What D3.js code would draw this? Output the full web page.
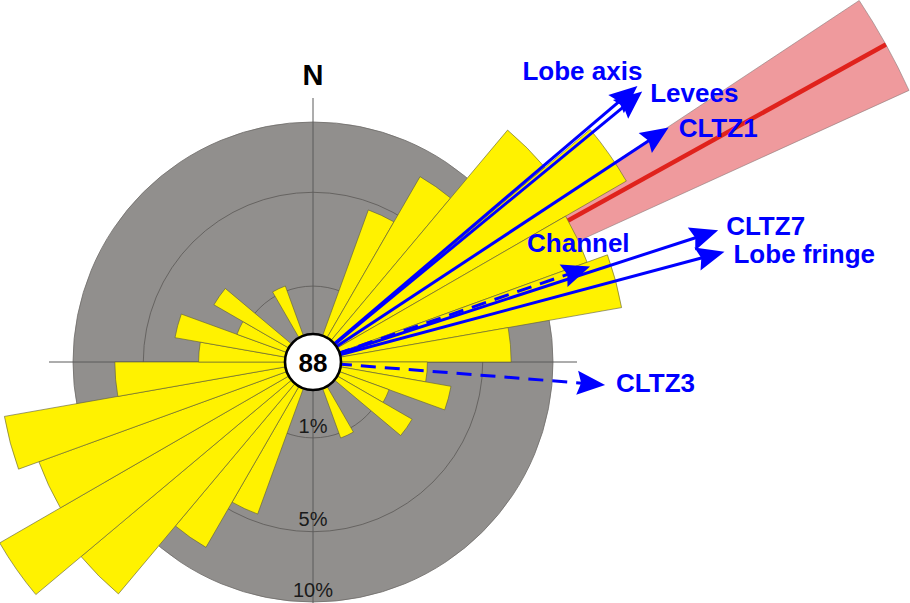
<!DOCTYPE html>
<html>
<head>
<meta charset="utf-8">
<script src="https://cdn.jsdelivr.net/npm/d3@7/dist/d3.min.js"></script>
<style>
  html, body { margin: 0; padding: 0; background: #ffffff; }
  svg { display: block; }
</style>
</head>
<body>
<svg id="rose" width="910" height="603"></svg>
<script>
// Palaeocurrent rose: 10-degree azimuth bins (clockwise from north), axial data
const binStarts = d3.range(0, 360, 10);
const binCounts = [0, 0, 4, 7, 14, 20, 13, 15, 6, 2, 3, 1, 2, 0, 0, 1, 0, 0,
                   0, 0, 4, 7, 14, 20, 13, 15, 6, 2, 3, 1, 2, 0, 0, 1, 0, 0];
const totalCount = 88;

// Percentage rings
const ringValues = [1, 5, 10];
const ringLabels = ["1%", "5%", "10%"];

// Vector mean azimuth and its confidence half-angle
const meanAzimuth = 61;
const meanHalfAngle = 4.5;

// Reference directions measured on other features
const arrowNames    = ["Lobe axis", "Levees", "CLTZ1", "Channel", "CLTZ7", "Lobe fringe", "CLTZ3"];
const arrowAzimuths = [49.6, 50.6, 56.6, 71.0, 72.0, 75.0, 94.5];
const arrowDashed   = [false, false, false, true, false, false, true];

// ---- layout ----
const cx = 313, cy = 362;
const outerR = 240;
const longReach = 426, shortReach = 293;
const meanReach = 655;
const toRad = d => d * Math.PI / 180;

const r = d3.scaleSqrt().domain([0, 10]).range([0, outerR]);
const pct = c => c / totalCount * 100;

// label placement relative to each arrow tip
const labelOffset = {
  "Lobe axis":   { dx: -115, dy: -6 },
  "Levees":      { dx: 8,    dy: 10 },
  "CLTZ1":       { dx: 10,   dy: 9 },
  "Channel":     { dx: -63,  dy: -15 },
  "CLTZ7":       { dx: 8,    dy: 5 },
  "Lobe fringe": { dx: 9,    dy: 11 },
  "CLTZ3":       { dx: 11,   dy: 7 }
};

const svg = d3.select("#rose");
const g = svg.append("g").attr("transform", `translate(${cx},${cy})`);
const font = "'Liberation Sans', Arial, Helvetica, sans-serif";

// background disk (10% ring)
g.append("circle")
  .attr("r", r(10))
  .attr("fill", "#918f8d")
  .attr("stroke", "#6e6c6a")
  .attr("stroke-width", 0.8);

// inner rings
g.selectAll("circle.ring")
  .data(ringValues.filter(v => v < 10))
  .join("circle")
  .attr("class", "ring")
  .attr("r", d => r(d))
  .attr("fill", "none")
  .attr("stroke", "#5a5856")
  .attr("stroke-width", 0.8);

// cross hairs
const hair = 264;
g.append("line").attr("x1", -hair).attr("x2", hair).attr("y1", 0).attr("y2", 0)
  .attr("stroke", "#5a5a5a").attr("stroke-width", 1);
g.append("line").attr("x1", 0).attr("x2", 0).attr("y1", -hair).attr("y2", hair)
  .attr("stroke", "#5a5a5a").attr("stroke-width", 1);

// mean direction sector and line
g.append("path")
  .attr("d", d3.arc()({
    innerRadius: 0, outerRadius: meanReach,
    startAngle: toRad(meanAzimuth - meanHalfAngle),
    endAngle: toRad(meanAzimuth + meanHalfAngle)
  }))
  .attr("fill", "#ef9a9d")
  .attr("stroke", "#8a7a7a")
  .attr("stroke-width", 0.6);
g.append("line")
  .attr("x1", 0).attr("y1", 0)
  .attr("x2", meanReach * Math.sin(toRad(meanAzimuth)))
  .attr("y2", -meanReach * Math.cos(toRad(meanAzimuth)))
  .attr("stroke", "#e0221c")
  .attr("stroke-width", 4.5);

// rose petals
const bins = binStarts.map((a, i) => ({ start: a, count: binCounts[i] })).filter(d => d.count > 0);
const petal = d3.arc()
  .innerRadius(0)
  .outerRadius(d => r(pct(d.count)))
  .startAngle(d => toRad(d.start))
  .endAngle(d => toRad(d.start + 10));
g.selectAll("path.petal")
  .data(bins)
  .join("path")
  .attr("class", "petal")
  .attr("d", petal)
  .attr("fill", "#fff200")
  .attr("stroke", "#5a5a3a")
  .attr("stroke-width", 0.6);

// direction arrows
const arrows = arrowNames.map((n, i) => ({
  name: n, az: arrowAzimuths[i], dashed: arrowDashed[i],
  reach: arrowDashed[i] ? shortReach : longReach
}));
const headLen = 28, headHalf = 12, notch = 4;
const ag = g.selectAll("g.arrow")
  .data(arrows)
  .join("g")
  .attr("class", "arrow")
  .attr("transform", d => `rotate(${d.az - 90})`);
ag.append("line")
  .attr("x1", 0).attr("y1", 0)
  .attr("x2", d => d.reach - headLen + notch + 1).attr("y2", 0)
  .attr("stroke", "#0000ff")
  .attr("stroke-width", 3)
  .attr("stroke-dasharray", d => d.dashed ? "15,9" : null);
ag.append("path")
  .attr("d", d => `M${d.reach},0 L${d.reach - headLen},${-headHalf} L${d.reach - headLen + notch},0 L${d.reach - headLen},${headHalf} Z`)
  .attr("fill", "#0000ff");

// arrow labels
g.selectAll("text.arrow-label")
  .data(arrows)
  .join("text")
  .attr("class", "arrow-label")
  .attr("x", d => d.reach * Math.sin(toRad(d.az)) + labelOffset[d.name].dx)
  .attr("y", d => -d.reach * Math.cos(toRad(d.az)) + labelOffset[d.name].dy)
  .attr("font-family", font)
  .attr("font-weight", "bold")
  .attr("font-size", 26)
  .attr("fill", "#0000ff")
  .text(d => d.name);

// ring labels along the south axis
g.selectAll("text.ring-label")
  .data(ringValues)
  .join("text")
  .attr("class", "ring-label")
  .attr("x", 0)
  .attr("y", (d, i) => [71, 164, 235][i])
  .attr("text-anchor", "middle")
  .attr("font-family", font)
  .attr("font-size", 20)
  .attr("fill", "#1a1a1a")
  .text((d, i) => ringLabels[i]);

// north marker
g.append("text")
  .attr("x", 0).attr("y", -277)
  .attr("text-anchor", "middle")
  .attr("font-family", font)
  .attr("font-weight", "bold")
  .attr("font-size", 29)
  .attr("fill", "#000")
  .text("N");

// sample count
g.append("circle")
  .attr("r", 28)
  .attr("fill", "#ffffff")
  .attr("stroke", "#000")
  .attr("stroke-width", 2.6);
g.append("text")
  .attr("x", 0).attr("y", 9.5)
  .attr("text-anchor", "middle")
  .attr("font-family", font)
  .attr("font-weight", "bold")
  .attr("font-size", 26)
  .attr("fill", "#000")
  .text(totalCount);
</script>
</body>
</html>
